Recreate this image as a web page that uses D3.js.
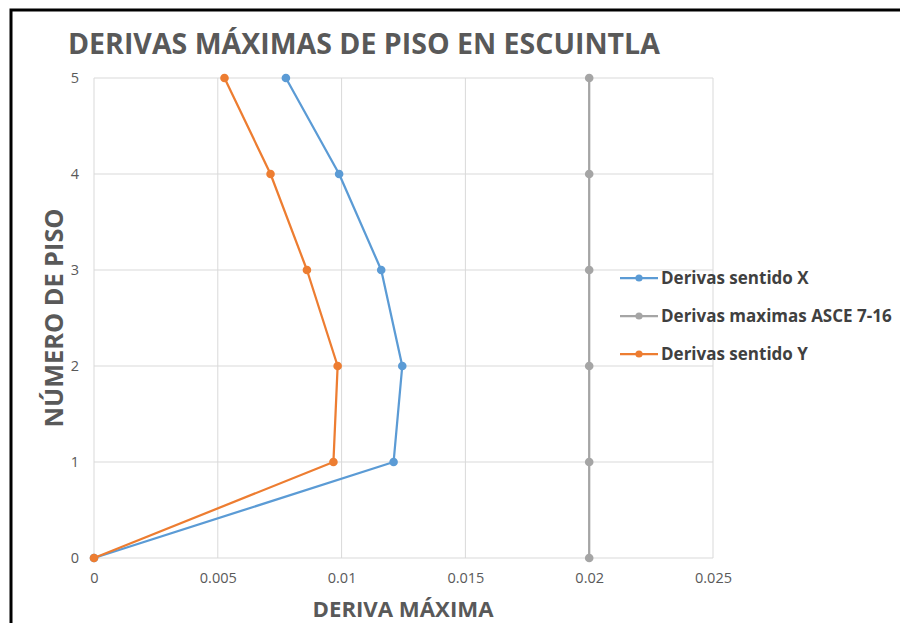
<!DOCTYPE html>
<html>
<head>
<meta charset="utf-8">
<script src="https://cdn.jsdelivr.net/npm/d3@7"></script>
<style>
  html, body { margin: 0; padding: 0; background: #fff; }
  svg { display: block; }
  text { font-family: "Open Sans", "Liberation Sans", sans-serif; }
</style>
</head>
<body>
<div id="chart"></div>
<script>
// Story numbers (floors) on the vertical axis
const floors = [0, 1, 2, 3, 4, 5];
// Maximum story drift, direction X
const driftX = [0, 0.0121, 0.01245, 0.0116, 0.0099, 0.00775];
// ASCE 7-16 allowable drift
const driftLimit = [0.02, 0.02, 0.02, 0.02, 0.02, 0.02];
// Maximum story drift, direction Y
const driftY = [0, 0.00967, 0.00984, 0.0086, 0.00713, 0.00527];

const xTicks = [0, 0.005, 0.01, 0.015, 0.02, 0.025];
const xTickLabels = ["0", "0.005", "0.01", "0.015", "0.02", "0.025"];
const yTicks = [0, 1, 2, 3, 4, 5];

const seriesNames = ["Derivas sentido X", "Derivas maximas ASCE 7-16", "Derivas sentido Y"];
const seriesColors = ["#5b9bd5", "#a5a5a5", "#ed7d31"];

const W = 900, H = 623;
const svg = d3.select("#chart").append("svg").attr("width", W).attr("height", H);

// Frame
svg.append("rect").attr("x", 11).attr("y", 10).attr("width", W + 10).attr("height", H + 10)
  .attr("fill", "#fff").attr("stroke", "#000").attr("stroke-width", 3);

const x = d3.scaleLinear().domain([0, 0.025]).range([94, 713]);
const y = d3.scaleLinear().domain([0, 5]).range([558, 78]);

// Gridlines
const grid = svg.append("g");
grid.selectAll("line.v").data(xTicks).join("line")
  .attr("x1", d => x(d)).attr("x2", d => x(d)).attr("y1", y(0)).attr("y2", y(5))
  .attr("stroke", "#d9d9d9").attr("stroke-width", 1);
grid.selectAll("line.h").data(yTicks).join("line")
  .attr("x1", x(0)).attr("x2", x(0.025)).attr("y1", d => y(d)).attr("y2", d => y(d))
  .attr("stroke", "#d9d9d9").attr("stroke-width", 1);

// Axes (labels only)
const xAxis = svg.append("g").attr("transform", `translate(0,${y(0)})`)
  .call(d3.axisBottom(x).tickValues(xTicks).tickFormat((d, i) => xTickLabels[i]).tickSize(0).tickPadding(15));
const yAxis = svg.append("g").attr("transform", `translate(${x(0)},0)`)
  .call(d3.axisLeft(y).tickValues(yTicks).tickFormat(d3.format("d")).tickSize(0).tickPadding(15));
[xAxis, yAxis].forEach(a => {
  a.select(".domain").remove();
  a.selectAll("text").attr("fill", "#595959").style("font-size", "14.5px")
    .style("font-family", "'Open Sans', sans-serif");
});

// Series
const series = [driftX, driftLimit, driftY];
const line = d3.line().x(d => x(d[0])).y(d => y(d[1]));
series.forEach((vals, i) => {
  const pts = vals.map((v, k) => [v, floors[k]]);
  const g = svg.append("g");
  g.append("path").datum(pts).attr("d", line).attr("fill", "none")
    .attr("stroke", seriesColors[i]).attr("stroke-width", 2.25).attr("stroke-linejoin", "round");
  g.selectAll("circle").data(pts).join("circle")
    .attr("cx", d => x(d[0])).attr("cy", d => y(d[1])).attr("r", 4.3)
    .attr("fill", seriesColors[i]);
});

// Legend
const legend = svg.append("g");
const legY = [278, 316, 354];
seriesNames.forEach((name, i) => {
  const g = legend.append("g").attr("transform", `translate(620,${legY[i]})`);
  g.append("line").attr("x1", 0).attr("x2", 38).attr("stroke", seriesColors[i]).attr("stroke-width", 2.25);
  g.append("circle").attr("cx", 19).attr("r", 3.6).attr("fill", seriesColors[i]);
  g.append("text").attr("x", 41).attr("y", 6).text(name)
    .attr("fill", "#404040").style("font-size", "17px").style("font-weight", "700");
});

// Title
const title = svg.append("text").attr("x", 68).attr("y", 54)
  .text("DERIVAS MÁXIMAS DE PISO EN ESCUINTLA")
  .attr("fill", "#595959").style("font-size", "26px").style("font-weight", "700");
const fitText = (sel, target) => {
  const w = sel.node().getComputedTextLength();
  const fs = parseFloat(sel.style("font-size"));
  sel.style("font-size", (fs * target / w) + "px");
};
fitText(title, 592);

// Axis titles
const xt = svg.append("text").attr("x", 403).attr("y", 617).attr("text-anchor", "middle")
  .text("DERIVA MÁXIMA").attr("fill", "#595959").style("font-size", "20px").style("font-weight", "700");
fitText(xt, 181);
const yt = svg.append("text").attr("transform", "translate(63,318) rotate(-90)").attr("text-anchor", "middle")
  .text("NÚMERO DE PISO").attr("fill", "#595959").style("font-size", "22px").style("font-weight", "700");
fitText(yt, 219);
</script>
</body>
</html>
